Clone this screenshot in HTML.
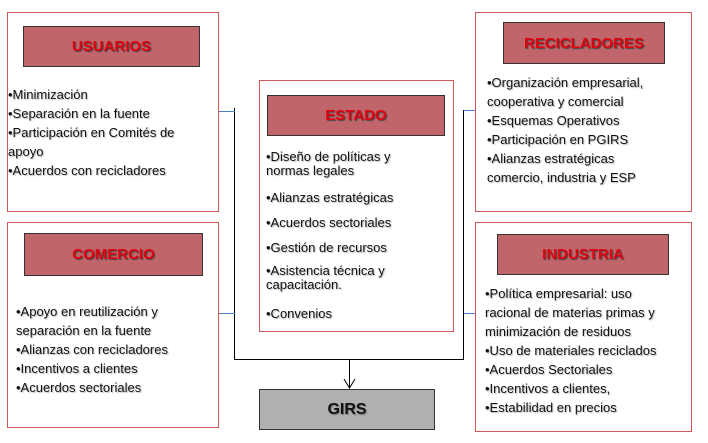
<!DOCTYPE html>
<html><head><meta charset="utf-8"><style>
body{margin:0;width:708px;height:443px;background:#fff;position:relative;overflow:hidden;font-family:"Liberation Sans",sans-serif;}
.a{position:absolute;box-sizing:border-box;}
.box{border:1.5px solid #d0585a;background:#fff;}
.hd{background:#c0666a;border:1.5px solid #333;color:#e00010;font-weight:bold;font-size:15px;display:flex;align-items:center;justify-content:center;text-shadow:1px 1px 1px #444;}
.t{font-size:13px;color:#111;line-height:19px;text-shadow:1px 1px 1px #bbb;white-space:nowrap;}
.ln{background:#000;}
.bl{background:#4a7ec0;}
</style></head><body>
<div class="a ln" style="left:234px;top:108px;width:1px;height:252px"></div>
<div class="a ln" style="left:463px;top:110px;width:1px;height:250px"></div>
<div class="a ln" style="left:234px;top:359px;width:230px;height:1px"></div>
<div class="a bl" style="left:219px;top:111px;width:16px;height:1px"></div>
<div class="a bl" style="left:219px;top:313px;width:16px;height:1px"></div>
<div class="a bl" style="left:464px;top:110px;width:12px;height:1px"></div>
<div class="a bl" style="left:464px;top:313px;width:12px;height:1px"></div>
<div class="a ln" style="left:349px;top:359px;width:1px;height:28px"></div>
<svg class="a" style="left:343px;top:378px" width="14" height="12"><polyline points="1,1 6.5,10 12,1" fill="none" stroke="#000" stroke-width="1"/></svg>

<div class="a box" style="left:7px;top:12px;width:212px;height:200px"></div>
<div class="a hd" style="left:23px;top:26px;width:177px;height:41px">USUARIOS</div>
<div class="a t" style="left:8px;top:85px">•Minimización<br>•Separación en la fuente<br>•Participación en Comités de<br>apoyo<br>•Acuerdos con recicladores</div>

<div class="a box" style="left:7px;top:222px;width:212px;height:206px"></div>
<div class="a hd" style="left:24px;top:233px;width:179px;height:43px">COMERCIO</div>
<div class="a t" style="left:16px;top:302px">•Apoyo en reutilización y<br>separación en la fuente<br>•Alianzas con recicladores<br>•Incentivos a clientes<br>•Acuerdos sectoriales</div>

<div class="a box" style="left:259px;top:80px;width:195px;height:252px"></div>
<div class="a hd" style="left:267px;top:95px;width:178px;height:41px">ESTADO</div>
<div class="a t" style="left:266px;top:150px;line-height:14px">•Diseño de políticas y<br>normas legales</div>
<div class="a t" style="left:266px;top:188px">•Alianzas estratégicas</div>
<div class="a t" style="left:266px;top:213px">•Acuerdos sectoriales</div>
<div class="a t" style="left:266px;top:238px">•Gestión de recursos</div>
<div class="a t" style="left:266px;top:264px;line-height:14px">•Asistencia técnica y<br>capacitación.</div>
<div class="a t" style="left:266px;top:304px">•Convenios</div>

<div class="a box" style="left:475px;top:12px;width:217px;height:200px"></div>
<div class="a hd" style="left:503px;top:22px;width:162px;height:42px">RECICLADORES</div>
<div class="a t" style="left:487px;top:73px">•Organización empresarial,<br>cooperativa y comercial<br>•Esquemas Operativos<br>•Participación en PGIRS<br>•Alianzas estratégicas<br>comercio, industria y ESP</div>

<div class="a box" style="left:475px;top:222px;width:217px;height:210px"></div>
<div class="a hd" style="left:497px;top:234px;width:172px;height:41px">INDUSTRIA</div>
<div class="a t" style="left:485px;top:284px">•Política empresarial: uso<br>racional de materias primas y<br>minimización de residuos<br>•Uso de materiales reciclados<br>•Acuerdos Sectoriales<br>•Incentivos a clientes,<br>•Estabilidad en precios</div>

<div class="a" style="left:259px;top:389px;width:176px;height:41px;background:#b0b0b0;border:1.5px solid #333;box-sizing:border-box;display:flex;align-items:center;justify-content:center;font-weight:bold;font-size:16px;color:#111;text-shadow:1px 1px 1px #777">GIRS</div>
</body></html>
